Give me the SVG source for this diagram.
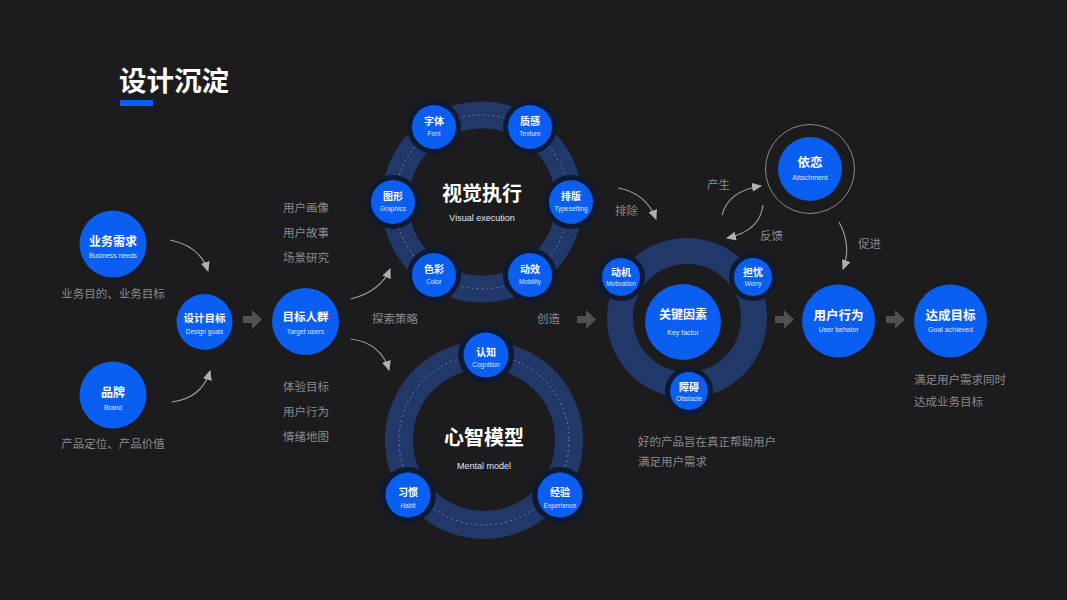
<svg xmlns="http://www.w3.org/2000/svg" width="1067" height="600" viewBox="0 0 1067 600">
<defs>
<style>
.cn{font-family:"Noto Sans CJK SC","Liberation Sans",sans-serif}
.t{font-family:"Noto Sans CJK SC",sans-serif;font-weight:bold;fill:#fff;text-anchor:middle}
.s{font-family:"Liberation Sans","Noto Sans CJK SC",sans-serif;fill:#dfe8ff;text-anchor:middle}
.g{font-family:"Noto Sans CJK SC",sans-serif;fill:#8a8a8a;font-size:11.5px}
.node{fill:#0a5ef0}
.halo{fill:#0e1a33}
.band{fill:none;stroke:#213868}
.dash{fill:none;stroke:#8c9ab8;stroke-width:1;stroke-dasharray:2 3;opacity:0.7}
.cur{fill:none;stroke:#9a9a9a;stroke-width:1.2}
.blk{fill:#505050}
</style>
<marker id="ah" markerWidth="10" markerHeight="9" refX="9" refY="4.5" orient="auto" markerUnits="userSpaceOnUse">
<path d="M0,0 L10,4.5 L0,9 z" fill="#b0b0b0"/>
</marker>
</defs>
<rect width="1067" height="600" fill="#1c1c1e"/>

<g id="title">
<text x="119" y="91" class="cn" font-size="27.5" font-weight="bold" fill="#fff">设计沉淀</text>
<rect x="120" y="100" width="33" height="6" fill="#0a5ef0"/>
</g>

<g id="rings">
<circle cx="482" cy="202" r="87" class="band" stroke-width="27"/>
<circle cx="482" cy="202" r="87" class="dash"/>
<circle cx="484" cy="440" r="85" class="band" stroke-width="28"/>
<circle cx="484" cy="440" r="85" class="dash"/>
<circle cx="687" cy="318" r="67" class="band" stroke-width="26"/>
</g>

<g id="connectors">
<path class="cur" d="M170,240 Q200,246 208,271" marker-end="url(#ah)"/>
<path class="cur" d="M172,402 Q202,398 210,371" marker-end="url(#ah)"/>
<path class="cur" d="M351,299 Q381,291 390,269" marker-end="url(#ah)"/>
<path class="cur" d="M351,339 Q381,343 389,370" marker-end="url(#ah)"/>
<path class="cur" d="M618,188 Q646,193 656,219" marker-end="url(#ah)"/>
<path class="cur" d="M722,215 Q728,191 761,186" marker-end="url(#ah)"/>
<path class="cur" d="M763,205 Q760,231 727,238" marker-end="url(#ah)"/>
<path class="cur" d="M839,222 Q852,246 843,269" marker-end="url(#ah)"/>
<path class="blk" d="M243,316 h9 v-6 l10,9.5 l-10,9.5 v-6 h-9 z"/>
<path class="blk" d="M577,316 h9 v-6 l10,9.5 l-10,9.5 v-6 h-9 z"/>
<path class="blk" d="M775,316 h9 v-6 l10,9.5 l-10,9.5 v-6 h-9 z"/>
<path class="blk" d="M886,316 h9 v-6 l10,9.5 l-10,9.5 v-6 h-9 z"/>
</g>

<g id="labels">
<text class="g" x="113" y="298" text-anchor="middle">业务目的、业务目标</text>
<text class="g" x="113" y="448" text-anchor="middle">产品定位、产品价值</text>
<text class="g" x="283" y="212">用户画像</text>
<text class="g" x="283" y="237">用户故事</text>
<text class="g" x="283" y="262">场景研究</text>
<text class="g" x="283" y="391">体验目标</text>
<text class="g" x="283" y="416">用户行为</text>
<text class="g" x="283" y="441">情绪地图</text>
<text class="g" x="372" y="323">探索策略</text>
<text class="g" x="537" y="323">创造</text>
<text class="g" x="615" y="215">排除</text>
<text class="g" x="707" y="189">产生</text>
<text class="g" x="760" y="240">反馈</text>
<text class="g" x="858" y="248">促进</text>
<text class="g" x="638" y="446">好的产品旨在真正帮助用户</text>
<text class="g" x="638" y="466">满足用户需求</text>
<text class="g" x="914" y="384">满足用户需求同时</text>
<text class="g" x="914" y="406">达成业务目标</text>
</g>

<g id="n-business">
<circle cx="113" cy="244" r="33.5" class="node"/>
<text class="t" x="113" y="245.5" font-size="12">业务需求</text>
<text class="s" x="113" y="257.5" font-size="6.8">Business needs</text>
</g>
<g id="n-brand">
<circle cx="113" cy="395" r="33.5" class="node"/>
<text class="t" x="113" y="396.5" font-size="12">品牌</text>
<text class="s" x="113" y="409.5" font-size="6.8">Brand</text>
</g>
<g id="n-goals">
<circle cx="204.5" cy="322" r="28" class="node"/>
<text class="t" x="204.5" y="321.5" font-size="10.5">设计目标</text>
<text class="s" x="204.5" y="333.5" font-size="6.5">Design goals</text>
</g>
<g id="n-target">
<circle cx="305.5" cy="321.5" r="33.5" class="node"/>
<text class="t" x="305.5" y="320.5" font-size="11.5">目标人群</text>
<text class="s" x="305.5" y="333.5" font-size="6.8">Target users</text>
</g>

<g id="n-visual">
<text class="t" x="482" y="201" font-size="20">视觉执行</text>
<text class="s" x="482" y="221" font-size="9" fill="#d0d0d0">Visual execution</text>
</g>
<g id="n-font">
<circle cx="434" cy="127" r="27" class="halo"/><circle cx="434" cy="127" r="22" class="node"/>
<text class="t" x="434" y="125" font-size="10">字体</text>
<text class="s" x="434" y="135.5" font-size="6.5">Font</text>
</g>
<g id="n-texture">
<circle cx="530" cy="127" r="27" class="halo"/><circle cx="530" cy="127" r="22" class="node"/>
<text class="t" x="530" y="125" font-size="10">质感</text>
<text class="s" x="530" y="135.5" font-size="6.5">Texture</text>
</g>
<g id="n-graphics">
<circle cx="393" cy="202" r="27" class="halo"/><circle cx="393" cy="202" r="22" class="node"/>
<text class="t" x="393" y="200" font-size="10">图形</text>
<text class="s" x="393" y="210.5" font-size="6.5">Graphics</text>
</g>
<g id="n-typesetting">
<circle cx="571" cy="202" r="27" class="halo"/><circle cx="571" cy="202" r="22" class="node"/>
<text class="t" x="571" y="200" font-size="10">排版</text>
<text class="s" x="571" y="210.5" font-size="6.5">Typesetting</text>
</g>
<g id="n-color">
<circle cx="434" cy="275" r="27" class="halo"/><circle cx="434" cy="275" r="22" class="node"/>
<text class="t" x="434" y="273" font-size="10">色彩</text>
<text class="s" x="434" y="283.5" font-size="6.5">Color</text>
</g>
<g id="n-mobility">
<circle cx="530" cy="275" r="27" class="halo"/><circle cx="530" cy="275" r="22" class="node"/>
<text class="t" x="530" y="273" font-size="10">动效</text>
<text class="s" x="530" y="283.5" font-size="6.5">Mobility</text>
</g>

<g id="n-mental">
<text class="t" x="484" y="445" font-size="20">心智模型</text>
<text class="s" x="484" y="469" font-size="9" fill="#d0d0d0">Mental model</text>
</g>
<g id="n-cognition">
<circle cx="486" cy="355" r="28" class="halo"/><circle cx="486" cy="355" r="22.5" class="node"/>
<text class="t" x="486" y="356" font-size="10">认知</text>
<text class="s" x="486" y="366.5" font-size="6.5">Cognition</text>
</g>
<g id="n-habit">
<circle cx="408" cy="495" r="28" class="halo"/><circle cx="408" cy="495" r="22.5" class="node"/>
<text class="t" x="408" y="496" font-size="10">习惯</text>
<text class="s" x="408" y="507.5" font-size="6.5">Habit</text>
</g>
<g id="n-experience">
<circle cx="560" cy="495" r="28" class="halo"/><circle cx="560" cy="495" r="22.5" class="node"/>
<text class="t" x="560" y="496" font-size="10">经验</text>
<text class="s" x="560" y="507.5" font-size="6.5">Experience</text>
</g>

<g id="n-key">
<circle cx="683" cy="322" r="38" class="node"/>
<text class="t" x="683" y="319" font-size="12">关键因素</text>
<text class="s" x="683" y="334.5" font-size="7">Key factor</text>
</g>
<g id="n-motivation">
<circle cx="621" cy="277" r="24" class="halo"/><circle cx="621" cy="277" r="19" class="node"/>
<text class="t" x="621" y="276" font-size="10">动机</text>
<text class="s" x="621" y="285.5" font-size="6.5">Motivation</text>
</g>
<g id="n-worry">
<circle cx="753" cy="277" r="24" class="halo"/><circle cx="753" cy="277" r="19" class="node"/>
<text class="t" x="753" y="276" font-size="10">担忧</text>
<text class="s" x="753" y="286" font-size="6.5">Worry</text>
</g>
<g id="n-obstacle">
<circle cx="689" cy="391" r="24" class="halo"/><circle cx="689" cy="391" r="19" class="node"/>
<text class="t" x="689" y="391" font-size="10">障碍</text>
<text class="s" x="689" y="400.5" font-size="6.5">Obstacle</text>
</g>

<g id="n-attachment">
<circle cx="810" cy="169" r="44.5" fill="none" stroke="#8a8a8a" stroke-width="1"/>
<circle cx="810" cy="169" r="32" class="node"/>
<text class="t" x="810" y="166.5" font-size="12.5">依恋</text>
<text class="s" x="810" y="179.5" font-size="7">Attachment</text>
</g>
<g id="n-behavior">
<circle cx="838.5" cy="321" r="36.5" class="node"/>
<text class="t" x="838.5" y="319.5" font-size="12.5">用户行为</text>
<text class="s" x="838.5" y="331.5" font-size="7">User behaior</text>
</g>
<g id="n-achieved">
<circle cx="950.5" cy="321" r="36.5" class="node"/>
<text class="t" x="950.5" y="319.5" font-size="12.5">达成目标</text>
<text class="s" x="950.5" y="331.5" font-size="7">Goal achieved</text>
</g>
</svg>
